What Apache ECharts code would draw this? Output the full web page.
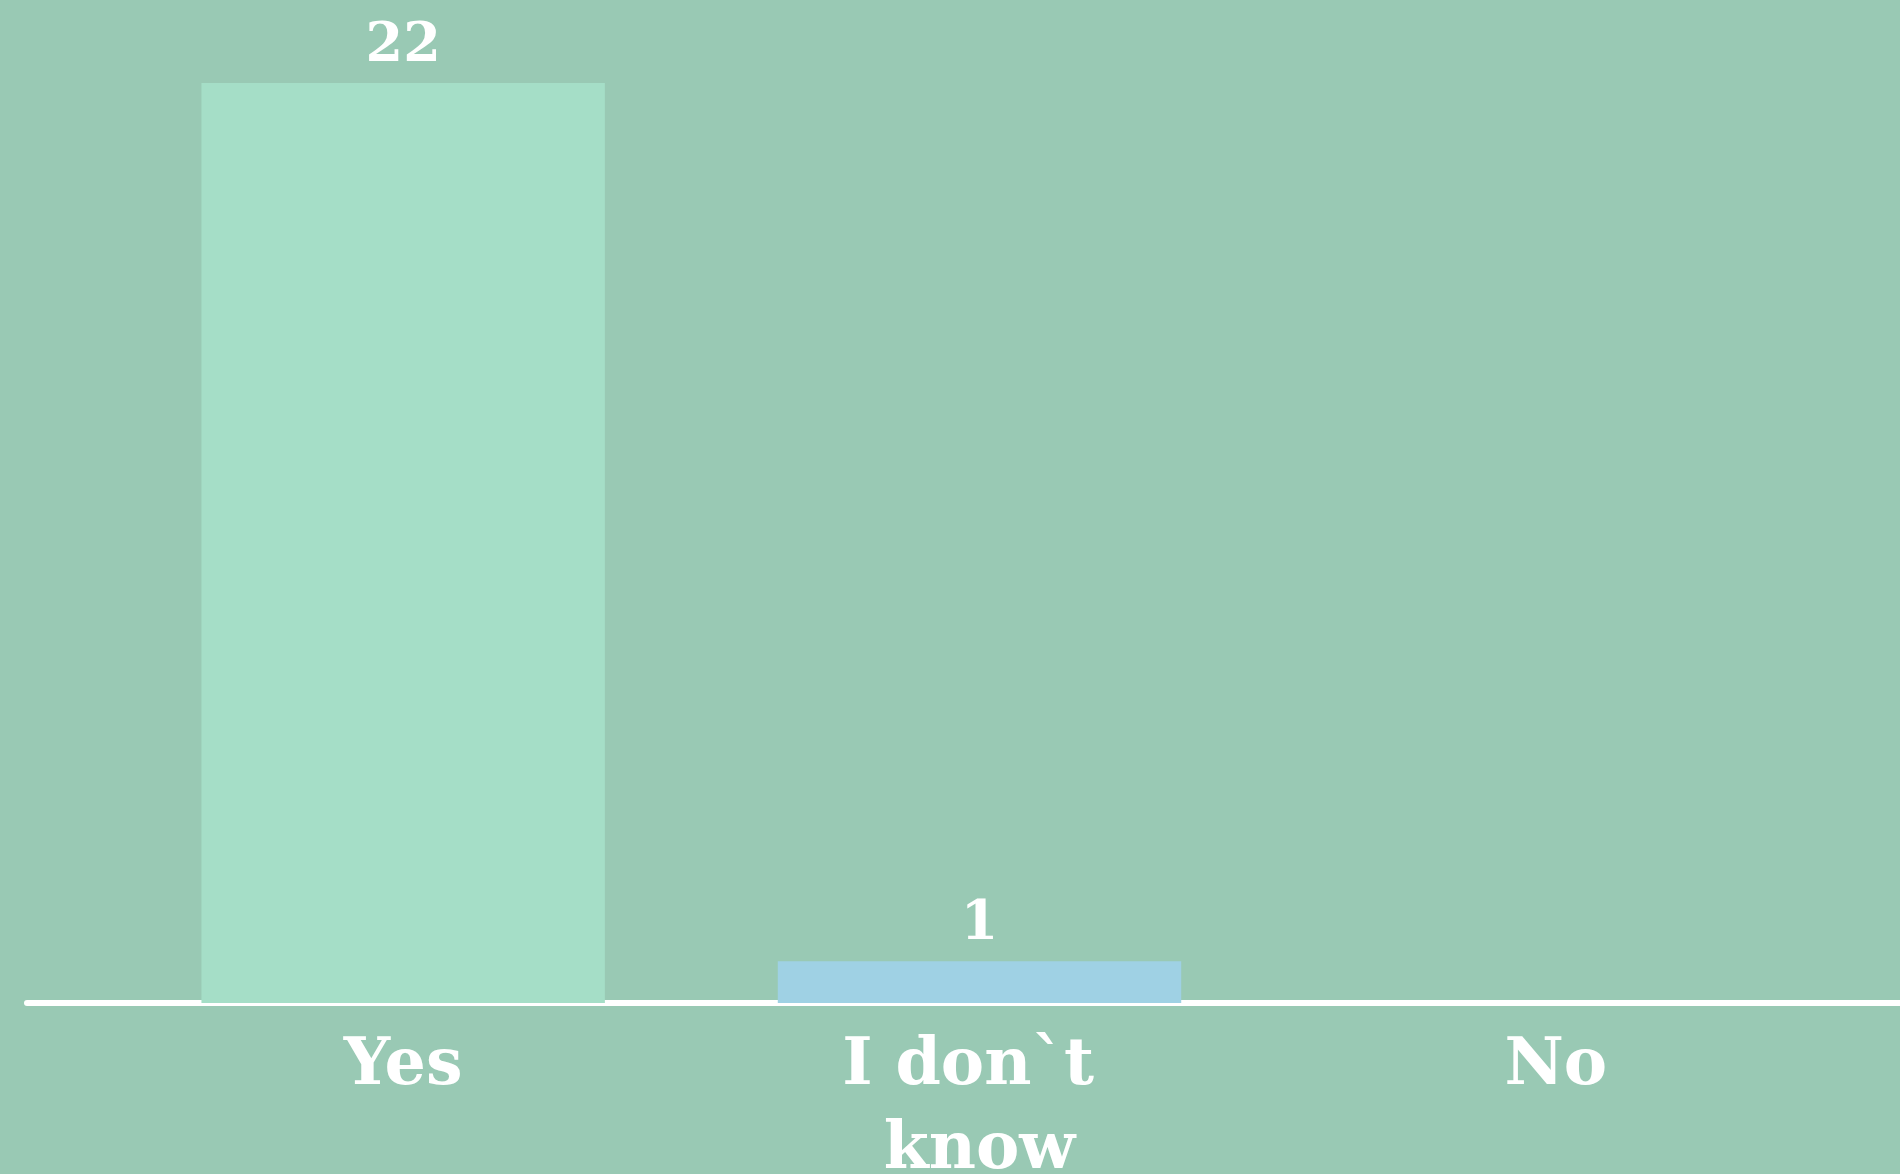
<!DOCTYPE html>
<html>
<head>
<meta charset="utf-8">
<script src="https://cdn.jsdelivr.net/npm/echarts@6/dist/echarts.min.js"></script>
<style>
html,body{margin:0;padding:0;background:#99c9b4;}
#c{width:1900px;height:1174px;}
</style>
</head>
<body>
<div id="c"></div>
<script>
const categories = ["Yes", "I don`t know", "No"];
const values = [22, 1, 0];
const barColors = ["#a5dec7", "#9fd1e4", "#f2c4a0"];

const chart = echarts.init(document.getElementById('c'), null, {renderer: 'canvas'});
const FONT = '"DejaVu Serif", "Liberation Serif", serif';

chart.setOption({
  backgroundColor: '#99c9b4',
  animation: false,
  grid: [
    {left: 115, right: 56, top: 83, bottom: 171, containLabel: false, outerBoundsMode: 'none'},
    {left: 27, right: 0, top: 83, bottom: 171, containLabel: false, outerBoundsMode: 'none'}
  ],
  xAxis: [
    {
      type: 'category', gridIndex: 0, data: categories,
      axisLine: {show: false}, axisTick: {show: false},
      axisLabel: {
        color: '#ffffff', fontFamily: FONT, fontWeight: 'bold', fontSize: 65,
        lineHeight: 84, margin: 22, width: 320, overflow: 'break', interval: 0
      }
    },
    {
      type: 'category', gridIndex: 1, data: [''],
      axisLine: {show: true, lineStyle: {color: '#ffffff', width: 6}},
      axisTick: {show: false}, axisLabel: {show: false}
    }
  ],
  yAxis: [
    {type: 'value', gridIndex: 0, min: 0, max: 22, show: false, splitLine: {show: false}},
    {type: 'value', gridIndex: 1, min: 0, max: 22, show: false, splitLine: {show: false}}
  ],
  series: [{
    type: 'bar', xAxisIndex: 0, yAxisIndex: 0,
    barCategoryGap: '30%',
    data: values.map((v, i) => ({value: v, itemStyle: {color: barColors[i]}})),
    label: {
      show: true, position: 'top', distance: 9,
      color: '#ffffff', fontFamily: FONT, fontWeight: 'bold', fontSize: 54,
      formatter: p => p.value > 0 ? String(p.value) : ''
    }
  }]
});
</script>
</body>
</html>
